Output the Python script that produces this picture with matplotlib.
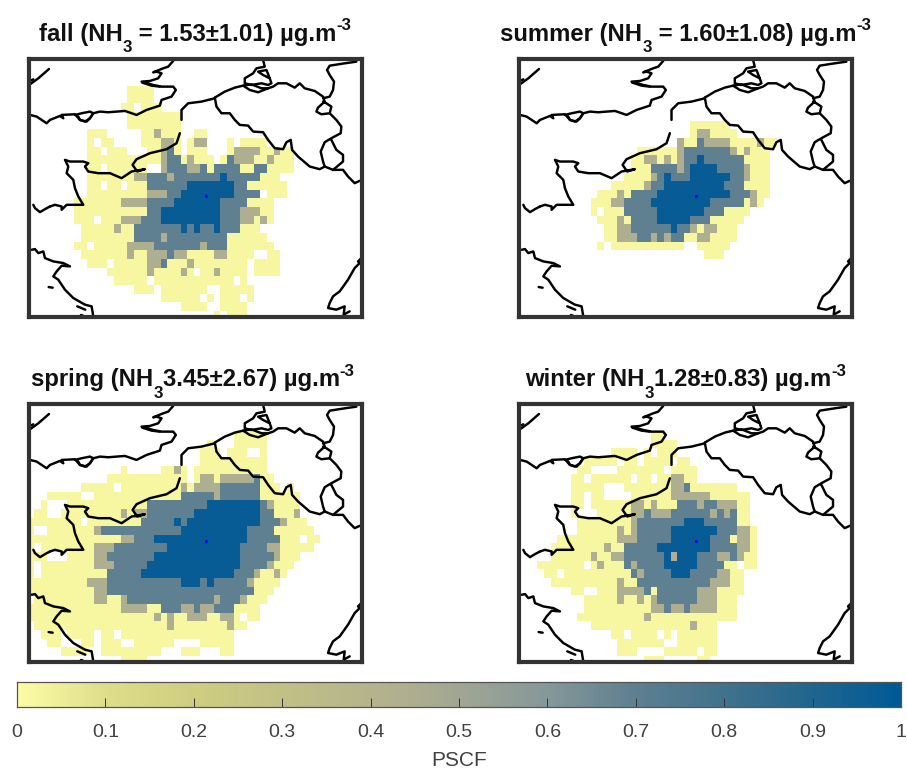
import matplotlib
matplotlib.use("Agg")
import numpy as np
import matplotlib.pyplot as plt
from matplotlib.colors import LinearSegmentedColormap

plt.rcParams['font.family'] = ['Liberation Sans', 'DejaVu Sans']

W, H = 907, 769
# PSCF classes seen in the cells
levels = {'y': 0.02, 'g': 0.45, 'b': 0.70, 'd': 0.98, '.': np.nan}

# grid: row -> "first-last+class" runs (later runs overwrite earlier ones)
fall = {
3: "16-19y", 4: "16-19y", 5: "15-16y 18-20y", 6: "16-23y", 7: "16-18y 19-23y",
8: "10-12y 18-19y 20-20g 21-23y 26-27y",
9: "10-10y 12-13y 18-20y 21-22g 23-23y 25-25y 26-27g 31-31y 33-36y",
10: "10-11y 13-15y 19-20y 21-21g 22-22b 23-23y 25-27y 31-31y 32-35g 36-37y 38-38g 39-40y",
11: "10-20y 21-21g 22-23b 24-24y 25-25g 26-28y 30-30y 31-31b 32-34g 35-36y 37-37g 38-40y",
12: "10-11y 13-18y 21-21g 22-24b 25-26g 27-27b 28-28y 29-32b 33-34y 35-36b 37-40y",
13: "10-16y 17-18g 19-21b 22-22g 23-29b 30-30d 31-35b 36-38y",
14: "10-11y 13-14y 16-18y 19-20b 21-24b 25-31d 32-33b 34-36y 37-39y",
15: "10-18y 19-21g 22-23b 24-31d 32-35b 37-39y",
16: "8-14y 15-18g 19-22b 23-29d 30-31b 32-33b 34-37y",
17: "8-18y 19-20b 21-29d 30-32b 33-35g 36-37y",
18: "8-10y 12-14y 15-17g 18-20b 21-29d 30-32b 33-34g 35-35y 36-36g 37-37y",
19: "9-13y 14-14g 15-16y 17-23b 24-24d 25-25b 26-26d 27-28b 29-29d 30-32b 33-35y",
20: "9-16y 17-20b 21-21g 22-30b 31-36y",
21: "8-9y 11-15y 16-19g 20-26b 27-27g 28-30b 31-37y",
22: "9-15y 16-16g 17-18y 19-21g 22-22b 23-24g 25-28y 29-30g 31-34y 37-38y",
23: "10-12y 14-18y 19-20g 21-21b 22-24y 25-25g 26-33y 35-38y",
24: "13-18y 19-19g 20-23y 24-24g 25-25y 27-28y 29-29g 30-33y 35-38y",
25: "14-18y 20-31y 33-33y",
26: "17-19y 21-22y 23-27y 30-34y",
27: "21-26y 28-28y 30-32y 34-34y",
28: "24-25y 26-27y 30-33y",
29: "29-29y 31-33y",
}
summer = {
7: "27-30y 31-32y",
8: "27-27y 28-29g 30-30y 31-33y",
9: "25-25g 26-27y 28-28b 29-32g 33-36y 37-37g 38-39y",
10: "19-24y 25-25g 26-32b 33-33g 34-34y 35-35g 36-38y",
11: "18-19y 20-21g 22-22y 23-23g 24-24y 25-25g 26-27b 28-28d 29-34b 35-38y",
12: "18-20y 21-24b 25-25g 26-26b 27-30d 31-34b 35-35g 36-38y",
13: "17-20y 21-21g 22-22b 23-23d 24-26b 27-32d 33-34b 35-35g 36-38y",
14: "15-19y 20-20g 21-22b 23-31d 32-34b 35-38y",
15: "13-15y 16-16g 17-17y 18-21b 22-32d 33-35b 36-36g 37-38y",
16: "12-14y 15-16g 17-20b 21-29d 30-34b 35-35y 36-36g 37-37y",
17: "12-12y 14-16y 17-21b 22-28d 29-31b 32-35y",
18: "13-15y 16-16g 17-17y 18-21b 22-26d 27-29b 30-30y 31-34y",
19: "14-15y 16-17g 18-23b 24-24d 25-26b 27-27g 28-28y 29-30g 31-33y",
20: "14-15y 16-18g 19-20b 21-21g 22-22b 23-23g 24-25b 26-27y 28-29g 30-33y",
21: "13-13y 15-25y 28-32y",
22: "29-31y",
}
spring = {
3: "32-36y",
4: "28-28y 32-36y",
5: "27-29y 31-33y 36-36y",
6: "27-36y",
7: "15-15y 21-22y 23-23g 24-24y 26-36y",
8: "13-24y 26-26y 27-28g 29-29y 30-34g 35-35b 36-37y",
9: "9-13y 15-23y 24-24g 25-25y 26-29g 30-35b 36-38y 40-40y",
10: "4-8y 11-23y 24-28b 29-29g 30-35b 36-41y",
11: "3-3y 7-18y 19-27b 28-35d 36-36b 37-37g 38-41y",
12: "2-3y 6-14y 15-15g 16-16y 17-18g 19-25b 26-35d 36-37b 38-40y 41-41g",
13: "1-8y 10-17y 18-22b 23-23d 24-24b 25-35d 36-38b 39-39g 40-42y",
14: "1-1y 4-10y 11-11g 12-23b 24-33d 34-37b 38-38y 39-43y",
15: "1-12y 13-14y 15-16g 17-19b 20-33d 34-38b 39-41y 43-44y",
16: "1-1y 3-10y 11-13g 14-21b 22-32d 33-36b 37-38g 39-43y",
17: "1-3y 7-10y 11-12g 13-19b 20-32d 33-37b 38-38g 39-41y",
18: "1-1y 3-10y 11-13g 14-18b 19-32d 33-36b 37-37g 38-40y",
19: "1-1y 3-12y 13-17b 18-31d 32-34b 35-35g 36-37y 38-38g 39-39y",
20: "1-9y 10-12g 13-23b 24-26d 27-27b 28-28d 29-33b 34-34g 35-38y",
21: "1-10y 11-12g 13-34b 35-37y",
22: "2-10y 11-12g 13-14y 15-15g 16-28b 29-29g 30-32b 33-33g 34-36y",
23: "1-14y 15-18g 19-20y 21-23b 24-25g 26-26b 27-28g 29-31b 32-35y",
24: "1-19y 20-20g 21-21y 22-22g 23-24y 25-27g 28-29y 30-31g 32-32y 34-35y",
25: "2-21y 22-22g 23-30y 31-31g 32-33y",
26: "3-5y 7-10y 12-13y 15-31y",
27: "4-5y 9-10y 12-14y 17-22y 27-31y",
28: "6-9y 12-20y 24-26y 30-31y",
29: "15-18y",
}
winter = {
3: "21-22y",
4: "21-24y",
5: "15-18y 20-20y 22-24y",
6: "11-15y 17-18y 20-23y 25-26y",
7: "10-11y 16-22y 24-27y",
8: "9-10y 12-17y 19-20y 22-23y 24-25g 26-27y",
9: "9-13y 17-23y 24-25g 26-26b 27-33y",
10: "9-10y 12-13y 18-23y 24-28g 29-29g 30-35y",
11: "9-10y 12-17y 18-19g 20-20y 21-21g 22-24y 25-27b 28-28g 29-30b 31-33g 34-35y",
12: "9-9y 13-17y 18-19g 20-20b 21-23g 24-29b 30-30g 31-31b 32-32g 33-33b 34-35y",
13: "10-17y 18-18g 19-25b 26-28d 29-33b 34-35y",
14: "10-15y 16-16g 17-17y 18-18g 19-23b 24-30d 31-33b 34-35g 36-36y",
15: "7-15y 16-18g 19-23b 24-29d 30-32b 33-33y 34-35g 36-36y",
16: "6-13y 14-14g 15-16y 17-21b 22-29d 30-33b 34-35g 36-36y",
17: "6-11y 12-12g 13-14y 15-16g 17-22b 23-23d 24-24g 25-27d 28-30b 31-32g 33-33b 34-34g 35-36y",
18: "4-10y 12-12y 13-13g 14-16y 17-17b 18-18g 19-22b 23-27d 28-31b 32-33y 35-36y",
19: "5-6y 8-17y 18-18b 19-19g 20-23b 24-26d 27-30b 31-32g 33-34y",
20: "6-15y 16-16g 17-18y 19-29b 30-32g 33-34y",
21: "9-10y 13-15y 16-19g 20-20b 21-21y 22-27b 28-30g 31-34y",
22: "11-15y 16-16g 17-18y 19-19g 20-20y 21-21g 22-27b 28-30g 31-33y",
23: "11-20y 21-22g 23-23b 24-25g 26-26b 27-30g 31-33y",
24: "10-19y 20-20g 21-33y",
25: "12-26y 27-27g 28-30y",
26: "15-16y 18-21y 23-23y 25-28y 29-30y",
27: "16-21y 22-22y 25-30y",
28: "16-18y 23-24y 25-27y 29-30y",
29: "20-22y 28-29y",
}
titles = [
    [("fall (NH", 0), ("3", -1), (" = 1.53±1.01) µg.m", 0), ("-3", 1)],
    [("summer (NH", 0), ("3", -1), (" = 1.60±1.08) µg.m", 0), ("-3", 1)],
    [("spring (NH", 0), ("3", -1), ("3.45±2.67) µg.m", 0), ("-3", 1)],
    [("winter (NH", 0), ("3", -1), ("1.28±0.83) µg.m", 0), ("-3", 1)],
]
panels = [(fall, 29, 59, 195.5), (summer, 519, 59, 685.5), (spring, 29, 404, 193), (winter, 519, 404, 685.5)]


def z1(pts):  # outlines
    return [(585 + x, 15 + y) for x, y in pts]


def z2(pts):  # outlines
    return [(15 + x, 15 + y) for x, y in pts]


def z3(pts):  # outlines
    return [(90 + x, 180 + y) for x, y in pts]


coasts = [
 z2([(15,88),(40,70),(72,42)]),
 z2([(15,78),(25,73)]),
 z2([(15,180),(35,185),(50,195),(65,205),(75,195),(105,183),(115,190),(110,180),(150,178),(165,195),(185,200),(195,190),(205,175),(225,170),(250,172),(300,168),(335,180),(365,165),(405,152),(410,135),(440,125),(453,105),(445,95),(410,95),(385,90),(350,80),(375,78),(400,70),(410,55),(395,50),(385,52),(415,40),(430,35),(445,18)]),
 z2([(150,180),(170,175),(195,170),(205,175),(195,190),(180,200),(165,195),(160,185)]),
 z2([(352,83),(380,92),(405,95)]),
 z3([(0,290),(15,285),(35,290),(35,300),(50,285),(75,285),(100,285),(85,260),(75,235),(70,210),(50,190),(55,170),(45,150),(60,155),(80,155),(100,155),(115,160),(105,170),(115,185),(145,190),(180,190),(215,205),(245,185),(285,178),(262,185),(248,165),(260,148),(300,130),(350,118),(380,100),(390,70)]),
 [(90,470),(75,478),(60,487),(45,475),(40,465)],
 z2([(470,195),(470,165),(490,145),(530,140),(570,130)]),
 z1([(0,128),(30,110),(60,98),(85,92),(105,105),(130,112),(160,100),(175,95),(190,85),(215,85),(240,98),(255,85),(270,100),(300,108),(325,125),(330,140),(310,158),(305,170),(320,178),(345,175),(350,155),(335,145),(325,140)]),
 z1([(345,175),(365,195),(380,215),(378,235),(350,250),(330,262),(318,290),(325,320),(330,335),(355,345),(385,320),(385,300),(365,285),(350,255)]),
 z1([(425,20),(390,25),(345,32),(337,45),(345,60),(358,80),(355,105),(345,125),(325,130)]),
 z1([(0,128),(5,155),(20,175),(45,175),(60,195),(75,210),(100,212),(115,230),(145,232),(160,255),(180,280),(205,283),(215,262),(228,255),(232,285),(250,305),(285,335),(315,343),(330,335)]),
 z1([(355,345),(385,345),(400,365),(420,385),(435,378)]),
 z1([(145,15),(150,35),(125,40),(115,55),(90,70),(90,85),(110,90),(140,85),(160,90),(170,85),(165,70),(145,60),(130,50),(155,45),(165,70)]),
 z1([(85,92),(110,88),(140,100),(160,100)]),
 [(35,600),(45,598),(55,610),(70,605),(75,625),(100,635),(130,640),(150,650),(125,648),(110,665),(100,680),(115,690),(135,720),(160,745),(195,765),(215,770),(220,800)],
 [(86,712),(98,714)],
 [(172,770),(196,780)],
 [(183,796),(189,798)],
 [(1025,625),(1015,635),(1020,640),(1005,655),(985,690),(960,725),(940,740),(930,760),(925,775),(950,780),(975,770),(972,795),(990,785)],
]
site_x, site_y = 560, 440

stops = [(0.0,'#FDFDA8'),(0.1,'#DEDE8A'),(0.2,'#CFCE80'),(0.3,'#C2C186'),(0.45,'#AEAE90'),
         (0.6,'#86989A'),(0.7,'#5F8090'),(0.85,'#326C8C'),(1.0,'#005A96')]
cmap = LinearSegmentedColormap.from_list('pscf', stops)
ticks = [0,0.1,0.2,0.3,0.4,0.5,0.6,0.7,0.8,0.9,1]
tick_labels = ['0','0.1','0.2','0.3','0.4','0.5','0.6','0.7','0.8','0.9','1']

n_rows, n_cols = 30, 52
xe = 2 + 20*np.arange(n_cols+1)
ye = 30 + 26*np.arange(n_rows+1)


def grid(d):
    z = np.full((n_rows, n_cols), np.nan)
    for r, s in d.items():
        for tok in s.split():
            a, b = tok[:-1].split('-')
            z[r, int(a):int(b)+1] = levels[tok[-1]]
    return z


fig = plt.figure(figsize=(W/100, H/100), dpi=100)
rend = fig.canvas.get_renderer()


def pxax(x0, y0, x1, y1):
    return fig.add_axes([x0/W, 1-y1/H, (x1-x0)/W, (y1-y0)/H])


def text_w(s, size):
    # width with spaces kept, by bracketing the piece with a letter
    a = fig.text(0, 0, "x" + s + "x", fontsize=size, fontweight='bold')
    b = fig.text(0, 0, "xx", fontsize=size, fontweight='bold')
    w = a.get_window_extent(rend).width - b.get_window_extent(rend).width
    a.remove(); b.remove()
    return w


def draw_title(parts, cx, base, size=17.2):
    sizes = [size if k == 0 else size*0.7 for _, k in parts]
    widths = [text_w(s, z) for (s, _), z in zip(parts, sizes)]
    x = cx - sum(widths)/2
    for (s, k), z, w in zip(parts, sizes, widths):
        dy = {0: 0, -1: 11.5, 1: -10.5}[k]
        fig.text(x/W, 1-(base+dy)/H, s, fontsize=z, fontweight='bold', color='#111111', ha='left', va='baseline')
        x += w


for parts, (d, px, py, tx) in zip(titles, panels):
    ax = pxax(px, py, px+333, py+258)
    ax.pcolormesh(xe, ye, grid(d), cmap=cmap, vmin=0, vmax=1, linewidth=0, rasterized=True)
    for c in coasts:
        xs, ys = zip(*c)
        ax.plot(xs, ys, color='black', lw=1.75, solid_joinstyle='round', solid_capstyle='round')
    ax.plot([site_x], [site_y], 'o', color='#0000FF', ms=2.4, mew=0)
    ax.set_xlim(27, 1027)
    ax.set_ylim(802, 27)
    ax.set_xticks([]); ax.set_yticks([])
    for sp in ax.spines.values():
        sp.set_linewidth(3.0); sp.set_color('#333333')
    draw_title(parts, tx, py-18)

cax = pxax(17, 682, 901, 707)
grad = np.linspace(0, 1, 512)[None, :]
cax.imshow(grad, extent=[0,1,0,1], aspect='auto', cmap=cmap, vmin=0, vmax=1)
cax.set_yticks([])
cax.set_xticks(ticks)
cax.set_xticklabels(tick_labels, fontsize=14, color='#404040')
cax.tick_params(axis='x', direction='in', length=6.5, width=0.7, color='#333333', pad=12.5)
for sp in cax.spines.values():
    sp.set_linewidth(0.9); sp.set_color('#555555')
fig.text(459/W, 1-760/H, 'PSCF', ha='center', va='center', fontsize=15, color='#404040')

fig.savefig('out.png', dpi=100)
